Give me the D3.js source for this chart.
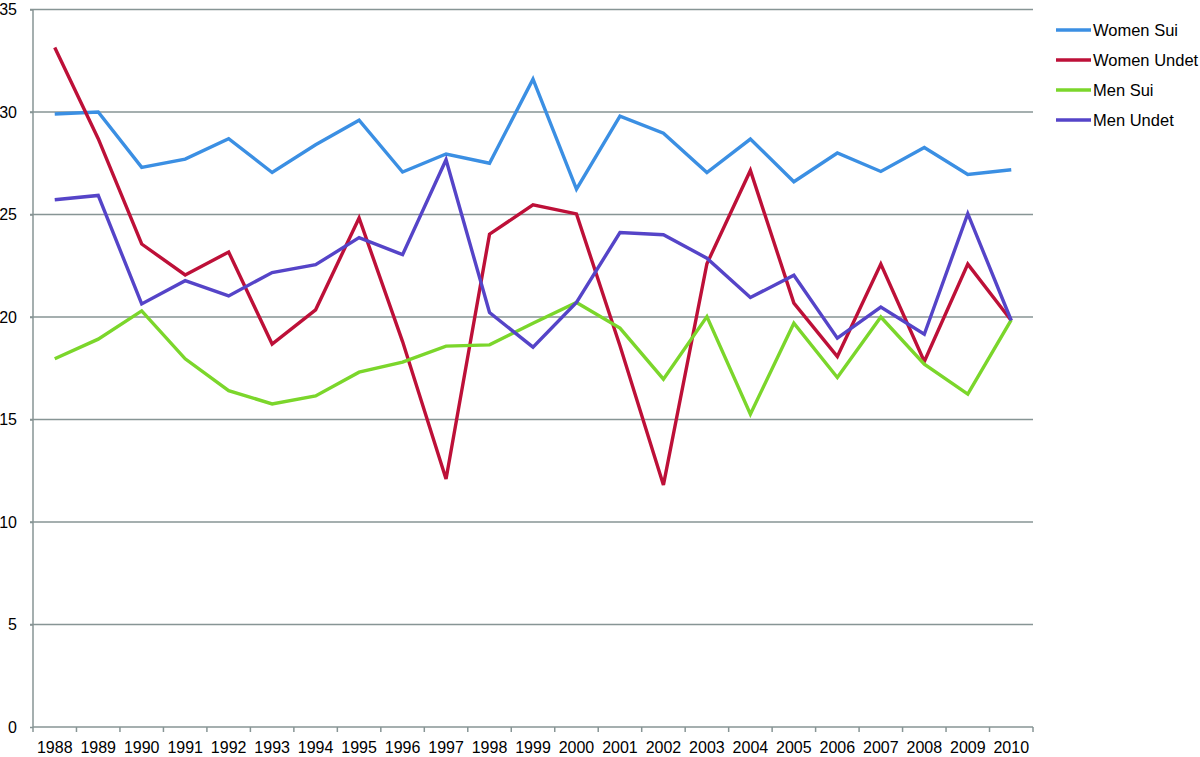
<!DOCTYPE html>
<html>
<head>
<meta charset="utf-8">
<script src="https://cdn.jsdelivr.net/npm/d3@7"></script>
<style>
  body { margin: 0; background: #fff; }
  text { font-family: "Liberation Sans", Arial, sans-serif; fill: #000; }
</style>
</head>
<body>
<script>
// chart data
var years = ['1988','1989','1990','1991','1992','1993','1994','1995','1996','1997','1998','1999',
             '2000','2001','2002','2003','2004','2005','2006','2007','2008','2009','2010'];

var womenSui   = [29.9, 30.0, 27.3, 27.7, 28.7, 27.05, 28.4, 29.6, 27.07, 27.95, 27.5, 31.6,
                  26.24, 29.8, 28.97, 27.05, 28.68, 26.6, 28.0, 27.1, 28.27, 26.95, 27.18];
var womenUndet = [33.15, 28.7, 23.56, 22.05, 23.17, 18.68, 20.35, 24.83, 18.8, 12.1, 24.04, 25.47,
                  25.03, 18.6, 11.81, 22.6, 27.15, 20.68, 18.07, 22.58, 17.83, 22.58, 19.83];
var menSui     = [17.96, 18.92, 20.3, 17.96, 16.41, 15.76, 16.15, 17.31, 17.8, 18.58, 18.64, 19.7,
                  20.71, 19.46, 16.97, 20.02, 15.26, 19.7, 17.05, 20.0, 17.7, 16.24, 19.86];
var menUndet   = [25.72, 25.93, 20.64, 21.77, 21.03, 22.17, 22.55, 23.87, 23.04, 27.67, 20.22, 18.53,
                  20.71, 24.12, 24.01, 22.87, 20.95, 22.04, 18.97, 20.48, 19.16, 25.04, 19.83];

var seriesNames  = ['Women Sui', 'Women Undet', 'Men Sui', 'Men Undet'];
var seriesColors = ['#3b8fe3', '#bd1038', '#7bd62b', '#5544c8'];
var yTicks = [0, 5, 10, 15, 20, 25, 30, 35];

var allSeries = [womenSui, womenUndet, menSui, menUndet];

var options = {
  width: 1200,
  height: 757,
  left: 33,
  right: 1033,
  top: 9.5,
  bottom: 727
};

var svg = d3.select('body')
            .append('svg')
            .attr('width', options.width)
            .attr('height', options.height);

var x = d3.scaleBand().domain(years).range([options.left, options.right]);
var y = d3.scaleLinear().domain([0, 35]).range([options.bottom, options.top]);

var gridColor = '#879595';

// horizontal gridlines
svg.append('g')
   .selectAll('line')
   .data(yTicks.slice(1))
   .enter()
     .append('line')
     .attr('x1', options.left - 3)
     .attr('x2', options.right)
     .attr('y1', function(d) { return y(d); })
     .attr('y2', function(d) { return y(d); })
     .attr('stroke', gridColor)
     .attr('stroke-width', 1.5);

// y axis
var yAxis = svg.append('g')
   .attr('transform', 'translate(' + options.left + ',0)')
   .call(d3.axisLeft(y).tickValues(yTicks).tickSize(3).tickPadding(13));
yAxis.select('.domain').attr('stroke', gridColor).attr('stroke-width', 1.5)
     .attr('d', 'M0,' + options.top + 'V' + options.bottom);
yAxis.selectAll('.tick line').attr('stroke', gridColor).attr('stroke-width', 1.5);
yAxis.selectAll('text').style('font-size', '16px').attr('fill', '#000');

// x axis, ticks sit on band edges
var xAxis = svg.append('g')
   .attr('transform', 'translate(0,' + options.bottom + ')');
xAxis.append('line')
     .attr('x1', options.left).attr('x2', options.right)
     .attr('stroke', gridColor).attr('stroke-width', 1.5);
xAxis.selectAll('.edge')
     .data(years.concat(['end']))
     .enter()
       .append('line')
       .attr('class', 'edge')
       .attr('x1', function(d, i) { return options.left + i * x.step(); })
       .attr('x2', function(d, i) { return options.left + i * x.step(); })
       .attr('y1', 0).attr('y2', 5)
       .attr('stroke', gridColor).attr('stroke-width', 1.5);
xAxis.selectAll('.lbl')
     .data(years)
     .enter()
       .append('text')
       .attr('class', 'lbl')
       .attr('x', function(d) { return x(d) + x.bandwidth() / 2; })
       .attr('y', 26)
       .attr('text-anchor', 'middle')
       .style('font-size', '16px')
       .text(function(d) { return d; });

// lines
var line = d3.line()
  .x(function(d, i) { return x(years[i]) + x.bandwidth() / 2; })
  .y(function(d) { return y(d); });

svg.append('g')
   .selectAll('path')
   .data(allSeries)
   .enter()
     .append('path')
     .attr('d', line)
     .attr('fill', 'none')
     .attr('stroke', function(d, i) { return seriesColors[i]; })
     .attr('stroke-width', 3.4)
     .attr('stroke-linejoin', 'miter');

// legend
var legend = svg.append('g')
   .selectAll('g')
   .data(seriesNames)
   .enter()
     .append('g')
     .attr('transform', function(d, i) { return 'translate(1056,' + (30 + i * 30) + ')'; });

legend.append('line')
      .attr('x1', 0).attr('x2', 35)
      .attr('stroke', function(d, i) { return seriesColors[i]; })
      .attr('stroke-width', 3.5);
legend.append('text')
      .attr('x', 37)
      .attr('dy', '0.36em')
      .style('font-size', '16.5px')
      .text(function(d) { return d; });
</script>
</body>
</html>
